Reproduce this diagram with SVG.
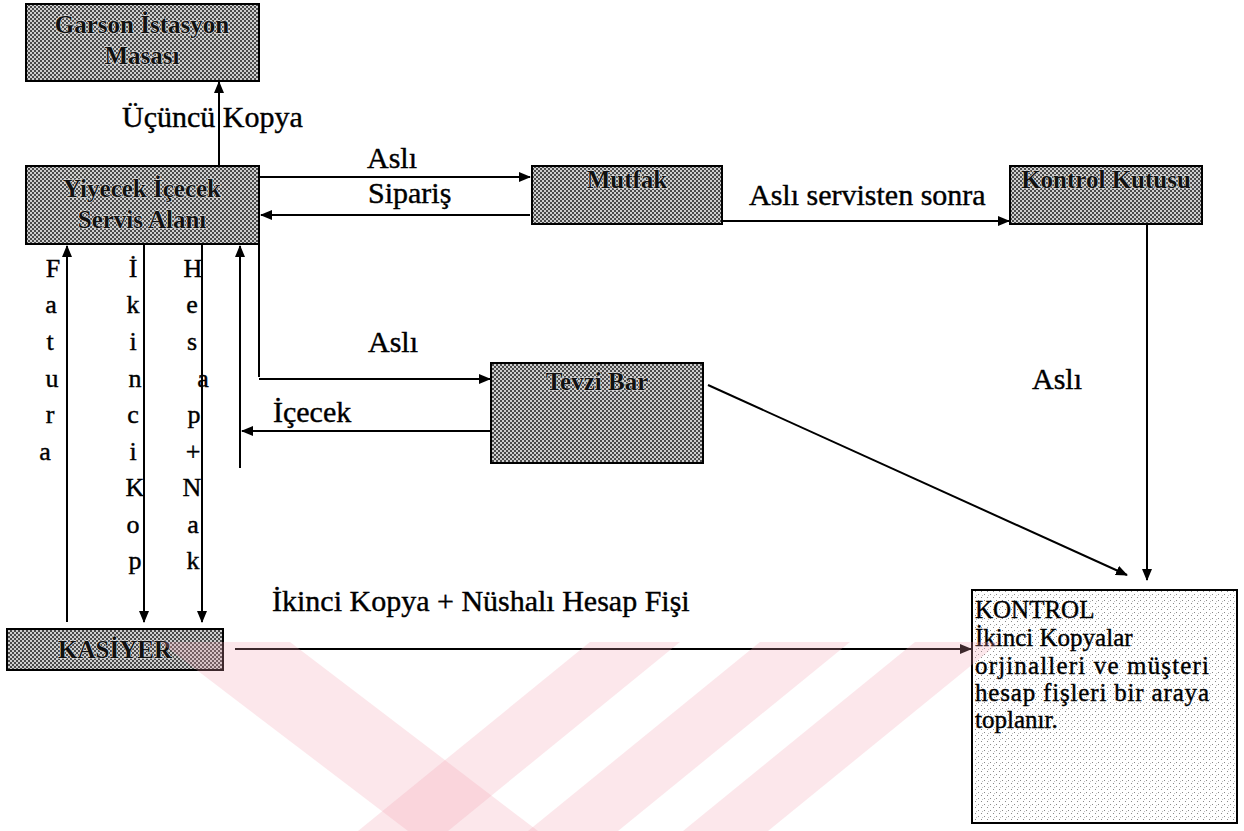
<svg xmlns="http://www.w3.org/2000/svg" width="1244" height="831" viewBox="0 0 1244 831">
<style>
.box{fill:url(#hatch);stroke:#000;stroke-width:2}
.bt{font-family:"Liberation Serif","Times New Roman",serif;font-size:25px;font-weight:bold;fill:#111;text-anchor:middle;stroke:#e8e8e8;stroke-width:1;paint-order:stroke;stroke-linejoin:round}
.lbl{font-family:"Liberation Serif","Times New Roman",serif;font-size:30px;fill:#000;stroke:#000;stroke-width:0.4}
.vl{font-family:"Liberation Serif","Times New Roman",serif;font-size:26px;fill:#000;text-anchor:middle;stroke:#000;stroke-width:0.4}
.kt{font-family:"Liberation Serif","Times New Roman",serif;font-size:25px;fill:#000;stroke:#000;stroke-width:0.4}
.ln{fill:none;stroke:#000;stroke-width:2}
.arr{marker-end:url(#ah)}
.wm{fill:#f5a0b0;opacity:0.25}
</style>
<defs>
<pattern id="hatch" width="4" height="4" patternUnits="userSpaceOnUse">
<rect width="4" height="4" fill="#cfcfcf"/>
<rect width="2" height="2" fill="#4a4a4a"/>
<rect x="2" y="2" width="2" height="2" fill="#4a4a4a"/>
</pattern>
<pattern id="stip" width="6" height="6" patternUnits="userSpaceOnUse">
<rect width="6" height="6" fill="#fff"/>
<rect x="0" y="0" width="1" height="1" fill="#8a8a8a"/>
<rect x="3" y="3" width="1" height="1" fill="#8a8a8a"/>
<rect x="4" y="1" width="1" height="1" fill="#c0c0c0"/>
</pattern>
<marker id="ah" markerWidth="12" markerHeight="10" refX="11" refY="5" orient="auto" markerUnits="userSpaceOnUse">
<path d="M0,0 L12,5 L0,10 Z" fill="#000"/>
</marker>
</defs>
<rect width="1244" height="831" fill="#fff"/>

<g id="connectors">
<path class="ln arr" d="M219,166 V82"/>
<path class="ln arr" d="M259,177 H530"/>
<path class="ln arr" d="M530,215 H261"/>
<path class="ln arr" d="M722,221 H1009"/>
<path class="ln arr" d="M1147,224 V580"/>
<path class="ln" d="M259,244 V377"/>
<path class="ln arr" d="M259,379 H490"/>
<path class="ln arr" d="M491,431 H242"/>
<path class="ln arr" d="M240,468 V246"/>
<path class="ln arr" d="M708,385 L1127,575"/>
<path class="ln arr" d="M67,622 V246"/>
<path class="ln arr" d="M144,245 V622"/>
<path class="ln arr" d="M202,245 V622"/>
<path class="ln arr" d="M235,649 H971"/>
</g>

<g id="labels">
<text class="lbl" x="122" y="127">Üçüncü Kopya</text>
<text class="lbl" x="367" y="168">Aslı</text>
<text class="lbl" x="368" y="203">Sipariş</text>
<text class="lbl" x="749" y="205">Aslı servisten sonra</text>
<text class="lbl" x="1032" y="389">Aslı</text>
<text class="lbl" x="368" y="352">Aslı</text>
<text class="lbl" x="273" y="422">İçecek</text>
<text class="lbl" x="272" y="611">İkinci Kopya + Nüshalı Hesap Fişi</text>
<g id="fatura">
<text class="vl" x="53" y="277">F</text>
<text class="vl" x="51" y="313">a</text>
<text class="vl" x="50" y="350">t</text>
<text class="vl" x="52" y="387">u</text>
<text class="vl" x="50" y="423">r</text>
<text class="vl" x="45" y="460">a</text>
</g>
<g id="ikinci-kop">
<text class="vl" x="133" y="277">İ</text>
<text class="vl" x="133" y="313">k</text>
<text class="vl" x="133" y="350">i</text>
<text class="vl" x="135" y="387">n</text>
<text class="vl" x="133" y="423">c</text>
<text class="vl" x="133" y="460">i</text>
<text class="vl" x="135" y="496">K</text>
<text class="vl" x="133" y="533">o</text>
<text class="vl" x="135" y="569">p</text>
</g>
<g id="hesap-nak">
<text class="vl" x="193" y="277">H</text>
<text class="vl" x="192" y="313">e</text>
<text class="vl" x="192" y="350">s</text>
<text class="vl" x="203" y="387">a</text>
<text class="vl" x="194" y="423">p</text>
<text class="vl" x="193" y="460">+</text>
<text class="vl" x="192" y="496">N</text>
<text class="vl" x="193" y="533">a</text>
<text class="vl" x="193" y="569">k</text>
</g>
</g>

<g id="garson">
<rect class="box" x="26" y="4" width="233" height="77"/>
<text class="bt" x="142" y="33">Garson İstasyon</text>
<text class="bt" x="142" y="64">Masası</text>
</g>
<g id="yiyecek">
<rect class="box" x="26" y="166" width="233" height="78"/>
<text class="bt" x="142" y="197">Yiyecek İçecek</text>
<text class="bt" x="142" y="228">Servis Alanı</text>
</g>
<g id="mutfak">
<rect class="box" x="532" y="166" width="190" height="58"/>
<text class="bt" x="627" y="188">Mutfak</text>
</g>
<g id="kontrol-kutusu">
<rect class="box" x="1010" y="166" width="192" height="58"/>
<text class="bt" x="1106" y="188">Kontrol Kutusu</text>
</g>
<g id="tevzi-bar">
<rect class="box" x="491" y="363" width="212" height="100"/>
<text class="bt" x="597" y="390">Tevzi Bar</text>
</g>
<g id="kasiyer">
<rect class="box" x="7" y="629" width="216" height="41"/>
<text class="bt" x="115" y="658">KASİYER</text>
</g>
<g id="kontrol">
<rect x="972" y="590" width="265" height="233" fill="url(#stip)" stroke="#000" stroke-width="2"/>
<text class="kt" x="975" y="618">KONTROL</text>
<text class="kt" x="975" y="646">İkinci Kopyalar</text>
<text class="kt" x="975" y="674" textLength="234" lengthAdjust="spacing">orjinalleri ve müşteri</text>
<text class="kt" x="975" y="701" textLength="234" lengthAdjust="spacing">hesap fişleri bir araya</text>
<text class="kt" x="975" y="728">toplanır.</text>
</g>

<g id="watermark">
<polygon class="wm" points="160,642 290,642 538,831 408,831"/>
<polygon class="wm" points="358,831 448,831 680,642 590,642"/>
<polygon class="wm" points="528,831 618,831 850,642 760,642"/>
<polygon class="wm" points="683,831 768,831 1000,642 915,642"/>
</g>
</svg>
